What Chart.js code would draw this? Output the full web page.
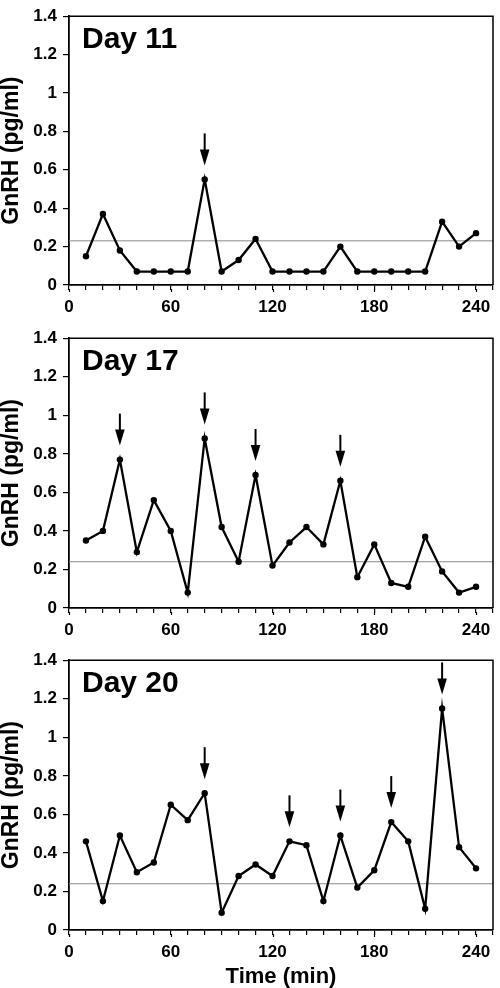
<!DOCTYPE html>
<html lang="en">
<head>
<meta charset="UTF-8">
<script src="https://cdn.jsdelivr.net/npm/chart.js"></script>
<style>
  html, body { margin: 0; padding: 0; background: #fff; }
  .panel { position: absolute; left: 0; width: 500px; }
</style>
</head>
<body>
<div class="panel" style="top:0;height:322px"><canvas id="c11"></canvas></div>
<div class="panel" style="top:322px;height:322px"><canvas id="c17"></canvas></div>
<div class="panel" style="top:644px;height:344px"><canvas id="c20"></canvas></div>
<script>
// sampling times (min)
const times = [10, 20, 30, 40, 50, 60, 70, 80, 90, 100, 110, 120,
               130, 140, 150, 160, 170, 180, 190, 200, 210, 220, 230, 240];

// GnRH (pg/ml)
const day11 = [0.15, 0.37, 0.18, 0.07, 0.07, 0.07, 0.07, 0.55, 0.07, 0.13, 0.24, 0.07,
               0.07, 0.07, 0.07, 0.20, 0.07, 0.07, 0.07, 0.07, 0.07, 0.33, 0.20, 0.27];
const day17 = [0.35, 0.40, 0.77, 0.29, 0.56, 0.40, 0.08, 0.88, 0.42, 0.24, 0.69, 0.22,
               0.34, 0.42, 0.33, 0.66, 0.16, 0.33, 0.13, 0.11, 0.37, 0.19, 0.08, 0.11];
const day20 = [0.46, 0.15, 0.49, 0.30, 0.35, 0.65, 0.57, 0.71, 0.09, 0.28, 0.34, 0.28,
               0.46, 0.44, 0.15, 0.49, 0.22, 0.31, 0.56, 0.46, 0.11, 1.15, 0.43, 0.32];

// pulses marked with arrows
const pulses11 = [80];
const pulses17 = [30, 80, 110, 160];
const pulses20 = [80, 130, 160, 190, 220];

// detection limit lines
const limit11 = 0.23;
const limit17 = 0.24;
const limit20 = 0.24;

// labelled x ticks
const xLabels = [0, 60, 120, 180, 240];

const FONT = '"Liberation Sans", Arial, Helvetica, sans-serif';

function makePanel(id, label, values, pulses, limit, padTop, axisHeight, showXTitle) {
  const extras = {
    id: 'extras' + id,
    afterDatasetsDraw(chart) {
      const { ctx, chartArea: a, scales: { x, y } } = chart;
      ctx.save();
      ctx.strokeStyle = '#000';
      ctx.lineWidth = 1.5;
      ctx.beginPath();
      ctx.moveTo(a.left, a.top);
      ctx.lineTo(a.right, a.top);
      ctx.lineTo(a.right, a.bottom);
      ctx.stroke();

      // longer marks at the labelled ticks
      ctx.lineWidth = 1.2;
      xLabels.forEach(v => {
        const px = Math.round(x.getPixelForValue(v)) + 0.5;
        ctx.beginPath();
        ctx.moveTo(px, a.bottom + 4);
        ctx.lineTo(px, a.bottom + 7);
        ctx.stroke();
      });

      ctx.fillStyle = '#000';
      ctx.font = 'bold 30px ' + FONT;
      ctx.textBaseline = 'alphabetic';
      ctx.textAlign = 'left';
      ctx.fillText(label, a.left + 13, a.top + 32);

      pulses.forEach(t => {
        const v = values[times.indexOf(t)];
        const px = x.getPixelForValue(t);
        const tip = y.getPixelForValue(v) - 14;
        const headTop = tip - 16;
        ctx.lineWidth = 2;
        ctx.beginPath();
        ctx.moveTo(px, tip - 32);
        ctx.lineTo(px, headTop + 1);
        ctx.stroke();
        ctx.beginPath();
        ctx.moveTo(px - 4.8, headTop);
        ctx.lineTo(px + 4.8, headTop);
        ctx.lineTo(px, tip);
        ctx.closePath();
        ctx.fill();
      });
      ctx.restore();
    }
  };

  return new Chart(document.getElementById(id), {
    type: 'line',
    data: {
      datasets: [
        {
          data: times.map((t, i) => ({ x: t, y: values[i] })),
          borderColor: '#000',
          borderWidth: 2.3,
          pointRadius: 3.2,
          pointBackgroundColor: '#000',
          pointBorderWidth: 0,
          tension: 0,
          order: 1
        },
        {
          data: [{ x: 0, y: limit }, { x: 250, y: limit }],
          borderColor: '#8a8a8a',
          borderWidth: 1,
          pointRadius: 0,
          order: 2
        }
      ]
    },
    options: {
      responsive: true,
      maintainAspectRatio: false,
      animation: false,
      layout: { padding: { top: padTop, right: 1, left: 0, bottom: 0 } },
      plugins: { legend: { display: false }, tooltip: { enabled: false } },
      scales: {
        x: {
          type: 'linear',
          min: 0,
          max: 250,
          afterFit: axis => { axis.height = axisHeight; },
          border: { display: true, color: '#000', width: 1.8 },
          grid: { drawOnChartArea: false, color: '#000', tickLength: 5, lineWidth: 1.2 },
          ticks: {
            stepSize: 10,
            autoSkip: false,
            maxRotation: 0,
            padding: 7,
            color: '#000',
            font: { family: FONT, size: 17, weight: 'bold' },
            callback: v => (xLabels.includes(v) ? String(v) : '')
          },
          title: {
            display: showXTitle,
            text: 'Time (min)',
            color: '#000',
            font: { family: FONT, size: 22, weight: 'bold', lineHeight: 1 },
            padding: { top: 0, bottom: 0 }
          }
        },
        y: {
          min: 0,
          max: 1.4,
          afterFit: axis => { axis.width = 69; },
          border: { display: true, color: '#000', width: 1.8 },
          grid: { drawOnChartArea: false, color: '#000', tickLength: 6, lineWidth: 1.2 },
          ticks: {
            stepSize: 0.2,
            padding: 6,
            color: '#000',
            font: { family: FONT, size: 17, weight: 'bold' },
            callback: v => String(+v.toFixed(1))
          },
          title: {
            display: true,
            text: 'GnRH (pg/ml)',
            color: '#000',
            font: { family: FONT, size: 23, weight: 'bold', lineHeight: 1 },
            padding: { top: 0.5, bottom: 0 }
          }
        }
      }
    },
    plugins: [extras]
  });
}

makePanel('c11', 'Day 11', day11, pulses11, limit11, 6, 37, false);
makePanel('c17', 'Day 17', day17, pulses17, limit17, 7, 36, false);
makePanel('c20', 'Day 20', day20, pulses20, limit20, 7, 58, true);
</script>
</body>
</html>
